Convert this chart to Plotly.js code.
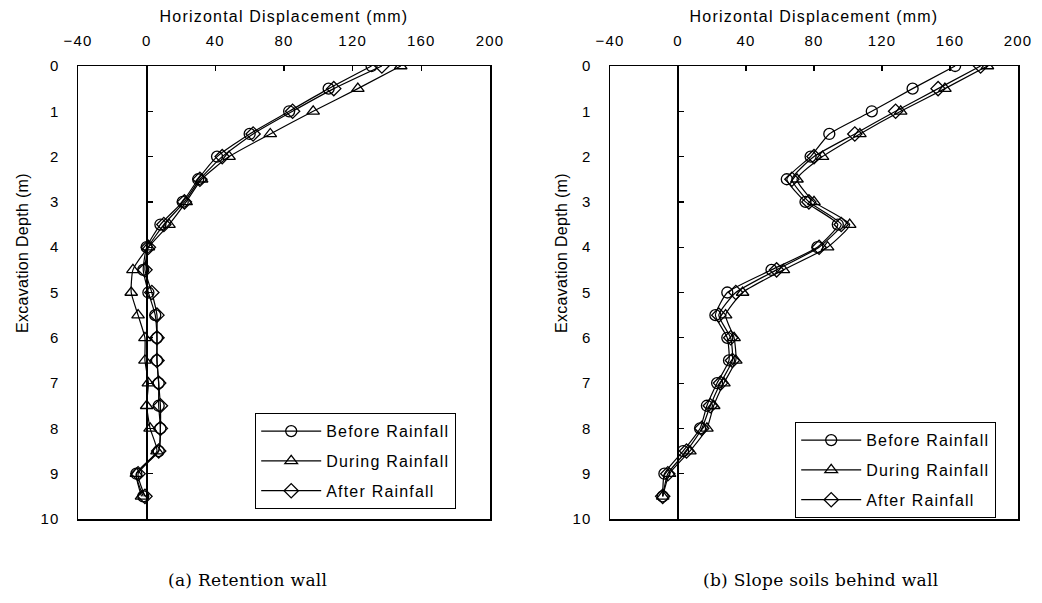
<!DOCTYPE html>
<html>
<head>
<meta charset="utf-8">
<script src="https://cdn.plot.ly/plotly-3.0.1.min.js"></script>
<style>
  html, body { margin: 0; padding: 0; background: #fff; }
  #chart { width: 1042px; height: 603px; }
  svg text { letter-spacing: 1.2px; }
  svg text.annotation-text { letter-spacing: 0.3px; }
</style>
</head>
<body>
<div id="chart"></div>
<script>
// Excavation depth (m)
const depth = [0, 0.5, 1, 1.5, 2, 2.5, 3, 3.5, 4, 4.5, 5, 5.5, 6, 6.5, 7, 7.5, 8, 8.5, 9, 9.5];

// (a) Retention wall – horizontal displacement (mm)
const wallBefore = [131, 106, 83, 60, 41, 30, 21, 8, 0, -2, 1, 5, 6, 6, 7, 7, 8, 7, -6, -2];
const wallDuring = [148, 123, 97, 72, 48, 32, 23, 13, 1, -8, -9, -5, -1, -1, 1, 0, 2, 6, -6, -3];
const wallAfter  = [137, 109, 85, 62, 44, 31, 22, 10, 1, -1, 3, 6, 6, 6, 7, 8, 8, 7, -5, -1];

// (b) Slope soils behind wall – horizontal displacement (mm)
const slopeBefore = [163, 138, 114, 89, 78, 64, 75, 94, 82, 55, 29, 22, 29, 30, 23, 17, 13, 3, -8, -9];
const slopeDuring = [182, 157, 131, 107, 85, 70, 80, 101, 88, 62, 38, 28, 33, 34, 27, 21, 17, 7, -5, -9];
const slopeAfter  = [178, 153, 128, 104, 80, 67, 77, 96, 83, 58, 34, 24, 31, 32, 25, 19, 14, 5, -6, -9];

const seriesNames = ['Before Rainfall', 'During Rainfall', 'After Rainfall'];
const xTicks = [-40, 0, 40, 80, 120, 160, 200];
const yTicks = [0, 1, 2, 3, 4, 5, 6, 7, 8, 9, 10];
const xTitle = 'Horizontal Displacement (mm)';
const yTitle = 'Excavation Depth (m)';
const captions = ['(a) Retention wall', '(b) Slope soils behind wall'];

const symbols = ['circle-open', 'triangle-up-open', 'diamond-open'];

function makeTrace(xs, i, xa, ya, lg) {
  return {
    x: xs, y: depth, xaxis: xa, yaxis: ya,
    name: seriesNames[i], legend: lg, legendgroup: lg + i,
    type: 'scatter', mode: 'lines+markers',
    line: { color: '#000', width: 1.2, shape: 'spline', smoothing: 0.5 },
    marker: { symbol: symbols[i], size: 11, color: '#000', line: { width: 1.3, color: '#000' } }
  };
}

const data = [
  makeTrace(wallBefore, 0, 'x', 'y', 'legend'),
  makeTrace(wallDuring, 1, 'x', 'y', 'legend'),
  makeTrace(wallAfter, 2, 'x', 'y', 'legend'),
  makeTrace(slopeBefore, 0, 'x2', 'y2', 'legend2'),
  makeTrace(slopeDuring, 1, 'x2', 'y2', 'legend2'),
  makeTrace(slopeAfter, 2, 'x2', 'y2', 'legend2'),
  // empty helpers so the zero-crossing axes are drawn
  { x: [], y: [], xaxis: 'x', yaxis: 'y3', showlegend: false, hoverinfo: 'skip' },
  { x: [], y: [], xaxis: 'x2', yaxis: 'y4', showlegend: false, hoverinfo: 'skip' }
];

const W = 1042, H = 603;
const L1 = [78 / W, 490 / W];
const L2 = [610 / W, 1018 / W];
const YD = [1 - 519 / H, 1 - 66 / H];
const xRange = [-40, 200];
const zeroPos = d => d[0] + (d[1] - d[0]) * (0 - xRange[0]) / (xRange[1] - xRange[0]);

const sans = 'Liberation Sans, Arial, sans-serif';
const tickFont = { family: sans, size: 15, color: '#000' };

function xAxis(domain, anchor) {
  return {
    domain: domain, anchor: anchor, side: 'top', range: xRange,
    tickvals: xTicks, ticktext: xTicks.map(v => v < 0 ? '\u2212' + Math.abs(v) : String(v)),
    ticks: 'inside', ticklen: 5, tickwidth: 1.2, tickcolor: '#000',
    ticklabelstandoff: 13,
    showline: true, linecolor: '#000', linewidth: 1.5, mirror: true,
    showgrid: false, zeroline: false, tickfont: tickFont,
    title: { text: xTitle, font: { family: sans, size: 16, color: '#000' }, standoff: 5 }
  };
}
function yAxis(domain, anchor) {
  return {
    domain: domain, anchor: anchor, range: [10, 0],
    tickvals: yTicks, ticks: '', ticklabelstandoff: 14,
    showline: true, linecolor: '#000', linewidth: 1.5, mirror: true,
    showgrid: false, zeroline: false, tickfont: tickFont
  };
}
function zeroAxis(over, pos) {
  return {
    overlaying: over, anchor: 'free', position: pos, side: 'left', range: [10, 0],
    tickvals: yTicks, ticks: 'inside', ticklen: 5, tickwidth: 1.2, tickcolor: '#000',
    showticklabels: false, showline: true, linecolor: '#000', linewidth: 2,
    showgrid: false, zeroline: false
  };
}

const legendBase = {
  bgcolor: '#fff', bordercolor: '#000', borderwidth: 1.2,
  font: { family: sans, size: 16, color: '#000' },
  xanchor: 'left', yanchor: 'top', tracegroupgap: 6, itemwidth: 60
};

function yTitleAnn(xpx) {
  return { text: yTitle, xref: 'paper', yref: 'paper', x: xpx / W, y: 1 - 253 / H,
    xanchor: 'center', yanchor: 'middle', textangle: -90, showarrow: false,
    font: { family: sans, size: 16, color: '#000' } };
}
function captionAnn(text, xpx) {
  return { text: text, xref: 'paper', yref: 'paper', x: xpx / W, y: 1 - 580 / H,
    xanchor: 'center', yanchor: 'middle', showarrow: false,
    font: { family: 'DejaVu Serif, serif', size: 17, color: '#000' } };
}

const layout = {
  width: W, height: H,
  margin: { l: 0, r: 0, t: 0, b: 0 },
  paper_bgcolor: '#fff', plot_bgcolor: 'rgba(0,0,0,0)',
  showlegend: true,
  xaxis: xAxis(L1, 'y'),
  yaxis: yAxis(YD, 'x'),
  xaxis2: xAxis(L2, 'y2'),
  yaxis2: yAxis(YD, 'x2'),
  yaxis3: zeroAxis('y', zeroPos(L1)),
  yaxis4: zeroAxis('y2', zeroPos(L2)),
  legend: Object.assign({}, legendBase, { x: 255 / W, y: 1 - 413 / H }),
  legend2: Object.assign({}, legendBase, { x: 795 / W, y: 1 - 422 / H }),
  annotations: [
    yTitleAnn(22), yTitleAnn(561),
    captionAnn(captions[0], 247), captionAnn(captions[1], 820)
  ]
};

Plotly.newPlot('chart', data, layout, { staticPlot: true, displayModeBar: false });
</script>
</body>
</html>
